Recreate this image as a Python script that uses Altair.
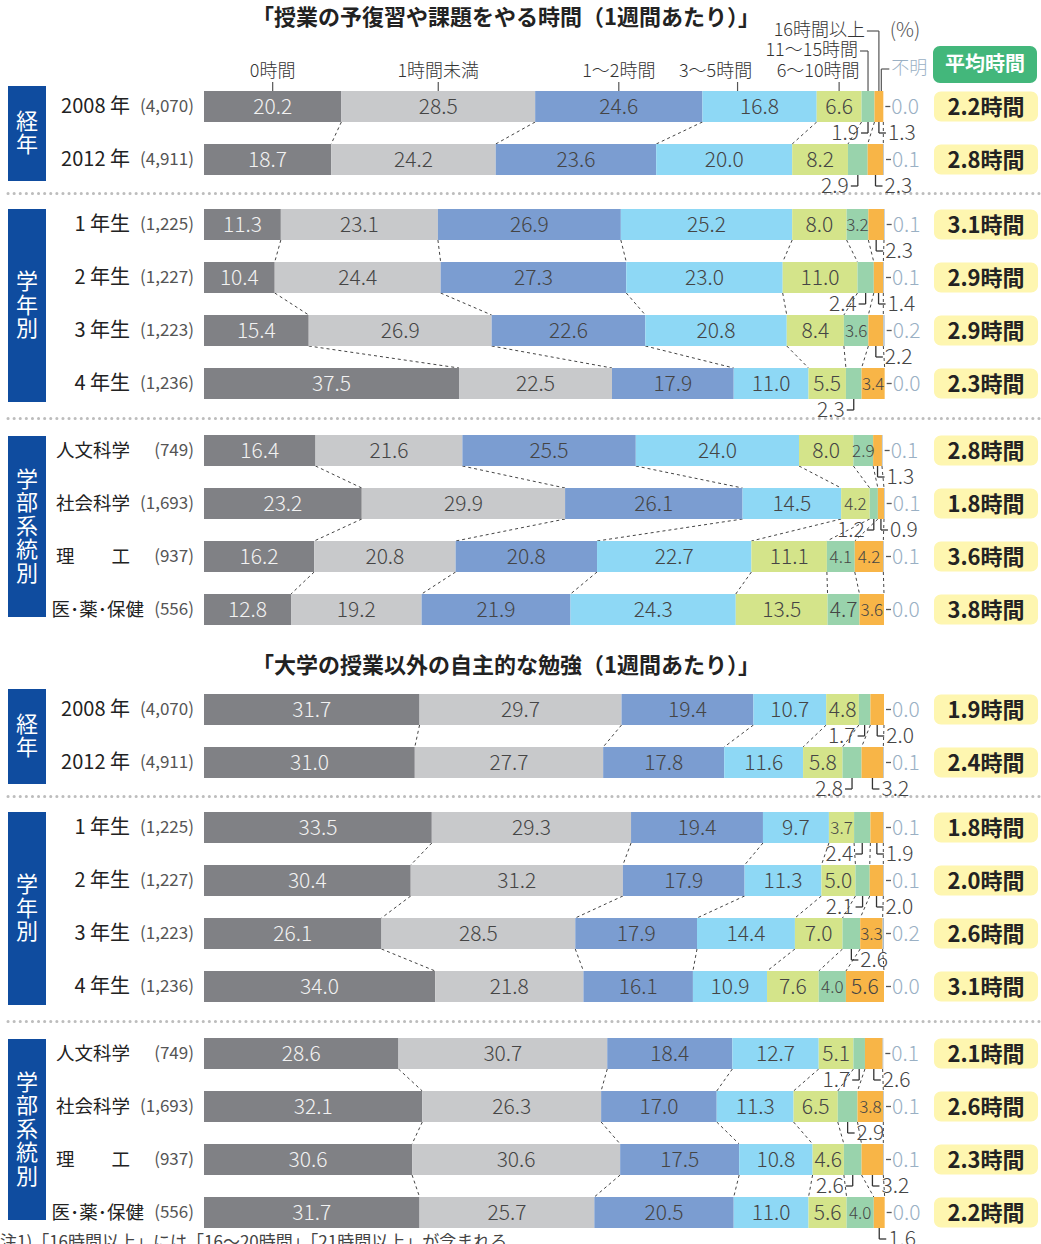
import altair as alt
import pandas as pd

FONT = "Noto Sans CJK JP"

# ---------------- data ----------------
categories = ["0時間", "1時間未満", "1～2時間", "3～5時間", "6～10時間", "11～15時間", "16時間以上", "不明"]
colors = ["#808185", "#c8c9cb", "#7b9dd1", "#8ed8f5", "#d4e48a", "#99d3ac", "#f8b547", "#a9bdd0"]

row_names = ["2008 年", "2012 年", "1 年生", "2 年生", "3 年生", "4 年生",
             "人文科学", "社会科学", "理　　工", "医･薬･保健"]
row_n = ["(4,070)", "(4,911)", "(1,225)", "(1,227)", "(1,223)", "(1,236)",
         "(749)", "(1,693)", "(937)", "(556)"]
groups = ["経年", "学年別", "学部系統別"]
row_group = [0, 0, 1, 1, 1, 1, 2, 2, 2, 2]

panel_titles = ["「授業の予復習や課題をやる時間（1週間あたり）」",
                "「大学の授業以外の自主的な勉強（1週間あたり）」"]

prep_values = [
    [20.2, 28.5, 24.6, 16.8, 6.6, 1.9, 1.3, 0.0],
    [18.7, 24.2, 23.6, 20.0, 8.2, 2.9, 2.3, 0.1],
    [11.3, 23.1, 26.9, 25.2, 8.0, 3.2, 2.3, 0.1],
    [10.4, 24.4, 27.3, 23.0, 11.0, 2.4, 1.4, 0.1],
    [15.4, 26.9, 22.6, 20.8, 8.4, 3.6, 2.2, 0.2],
    [37.5, 22.5, 17.9, 11.0, 5.5, 2.3, 3.4, 0.0],
    [16.4, 21.6, 25.5, 24.0, 8.0, 2.9, 1.3, 0.1],
    [23.2, 29.9, 26.1, 14.5, 4.2, 1.2, 0.9, 0.1],
    [16.2, 20.8, 20.8, 22.7, 11.1, 4.1, 4.2, 0.1],
    [12.8, 19.2, 21.9, 24.3, 13.5, 4.7, 3.6, 0.0],
]
prep_avg = ["2.2時間", "2.8時間", "3.1時間", "2.9時間", "2.9時間", "2.3時間",
            "2.8時間", "1.8時間", "3.6時間", "3.8時間"]

self_values = [
    [31.7, 29.7, 19.4, 10.7, 4.8, 1.7, 2.0, 0.0],
    [31.0, 27.7, 17.8, 11.6, 5.8, 2.8, 3.2, 0.1],
    [33.5, 29.3, 19.4, 9.7, 3.7, 2.4, 1.9, 0.1],
    [30.4, 31.2, 17.9, 11.3, 5.0, 2.1, 2.0, 0.1],
    [26.1, 28.5, 17.9, 14.4, 7.0, 2.6, 3.3, 0.2],
    [34.0, 21.8, 16.1, 10.9, 7.6, 4.0, 5.6, 0.0],
    [28.6, 30.7, 18.4, 12.7, 5.1, 1.7, 2.6, 0.1],
    [32.1, 26.3, 17.0, 11.3, 6.5, 2.9, 3.8, 0.1],
    [30.6, 30.6, 17.5, 10.8, 4.6, 2.6, 3.2, 0.1],
    [31.7, 25.7, 20.5, 11.0, 5.6, 4.0, 1.6, 0.0],
]
self_avg = ["1.9時間", "2.4時間", "1.8時間", "2.0時間", "2.6時間", "3.1時間",
            "2.1時間", "2.6時間", "2.3時間", "2.2時間"]

# label placement for 11～15 / 16時間以上 : I = inside, L = below-left, R = below-right
prep_place = ["LR", "LR", "IR", "LR", "IR", "LI", "IR", "LR", "II", "II"]
self_place = ["LR", "LR", "LR", "LR", "RI", "II", "LR", "RI", "LR", "IR"]

note_text = "注1)「16時間以上」には「16～20時間」「21時間以上」が含まれる"

# ---------------- layout ----------------
W, H = 1041, 1244
PX = 6.8      # pixels per percentage point
X0 = 204      # pixel of 0 %


def ux(p):
    return (p - X0) / PX


def dx(p):
    return p / PX


panel_first = [106.5, 709.5]
title_y = [18, 666]
group_start = [0, 118, 344]
pitch = 53
bar_h = 31
box_pad = [(5, 6), (0, 3), (-1, -8)]
box_lh = 23.5


def row_center(panel, r):
    g = row_group[r]
    first = row_group.index(g)
    return panel_first[panel] + group_start[g] + (r - first) * pitch


xs = alt.Scale(domain=[ux(0), ux(W)], nice=False, zero=False)
ys = alt.Scale(domain=[0, H], reverse=True, nice=False, zero=False)


def X(f="x"):
    return alt.X(f"{f}:Q", scale=xs, axis=None)


def Y(f="y"):
    return alt.Y(f"{f}:Q", scale=ys, axis=None)


bars, lab_in, lab_L, lab_R, leaders, unk_dash, unk_text = [], [], [], [], [], [], []
connectors, avg_rows, names, ns, boxes, box_chars, seps, titles = [], [], [], [], [], [], [], []

for p, (vals_all, avg_all, place_all) in enumerate(
        [(prep_values, prep_avg, prep_place), (self_values, self_avg, self_place)]):
    cums = []
    for r in range(10):
        vals = vals_all[r]
        yc = row_center(p, r)
        top, bot = yc - bar_h / 2, yc + bar_h / 2
        cum = 0.0
        bounds = []
        for c, v in enumerate(vals):
            bars.append(dict(x=cum, x2=cum + v, y=top, y2=bot, cat=categories[c]))
            mid = cum + v / 2
            if c < 7:
                place = "I" if c < 5 else place_all[r][c - 5]
                t = f"{v:.1f}"
                if place == "I":
                    lab_in.append(dict(x=mid, y=yc + 1, t=t,
                                       col="#f2f2f2" if c == 0 else "#454545",
                                       fs=21 if v * PX >= 29 else 17))
                else:
                    ty = bot + 11
                    leaders.append(dict(x=mid, x2=mid, y=bot, y2=ty))
                    if place == "L":
                        leaders.append(dict(x=mid - dx(7), x2=mid, y=ty, y2=ty))
                        lab_L.append(dict(x=mid - dx(9), y=ty + 1, t=t))
                    else:
                        leaders.append(dict(x=mid, x2=mid + dx(7), y=ty, y2=ty))
                        lab_R.append(dict(x=mid + dx(9), y=ty + 1, t=t))
            cum += v
            bounds.append(cum)
        cums.append((bounds, top, bot))
        unk_dash.append(dict(x=cum + dx(2), x2=cum + dx(7), y=yc, y2=yc))
        unk_text.append(dict(x=cum + dx(8), y=yc + 1, t=f"{vals[7]:.1f}"))
        avg_rows.append(dict(x=ux(934), x2=ux(1038), y=yc - 15, y2=yc + 15,
                             tx=ux(986), ty=yc + 1, t=avg_all[r]))
        names.append(dict(x=ux(144 if r == 9 else 130), y=yc, t=row_names[r],
                          fs=20 if r < 6 else 18.5))
        ns.append(dict(x=ux(194), y=yc, t=row_n[r]))
    # dashed connectors inside groups
    for r in range(9):
        if row_group[r] != row_group[r + 1]:
            continue
        b1, _, bot1 = cums[r]
        b2, top2, _ = cums[r + 1]
        for k in range(7):
            connectors.append(dict(x=b1[k], x2=b2[k], y=bot1, y2=top2))
    # group boxes with vertically stacked characters
    for g, gname in enumerate(groups):
        rows = [r for r in range(10) if row_group[r] == g]
        y1 = row_center(p, rows[0]) - bar_h / 2 - box_pad[g][0]
        y2 = row_center(p, rows[-1]) + bar_h / 2 + box_pad[g][1]
        boxes.append(dict(x=ux(8), x2=ux(46), y=y1, y2=y2))
        n = len(gname)
        for i, ch in enumerate(gname):
            box_chars.append(dict(x=ux(27),
                                  y=(y1 + y2) / 2 + (i - (n - 1) / 2) * box_lh,
                                  t=ch))
    for off in (87, 312):
        seps.append(dict(x=ux(8), x2=ux(W), y=panel_first[p] + off))
    titles.append(dict(x=ux(506), y=title_y[p], t=panel_titles[p]))

# header (category names above the first bar of the top panel)
hv = prep_values[0]
hb = [0.0]
for v in hv:
    hb.append(hb[-1] + v)
hmid = [(hb[i] + hb[i + 1]) / 2 for i in range(8)]
bar_top0 = panel_first[0] - bar_h / 2
head_c, head_r, head_l, head_lines = [], [], [], []
text_dx = [0, 0, 0, -44, -21]
tick_dx = [0, 0, 0, -22, 0]
for c in range(5):
    head_c.append(dict(x=hmid[c] + dx(text_dx[c]), y=72, t=categories[c]))
    tx = hmid[c] + dx(tick_dx[c])
    head_lines.append(dict(x=tx, x2=tx, y=82, y2=bar_top0))
for c, hy, gap in [(5, 51, 10), (6, 31, 14)]:
    head_r.append(dict(x=hmid[c] - dx(gap), y=hy, t=categories[c]))
    head_lines.append(dict(x=hmid[c] - dx(gap - 2), x2=hmid[c], y=hy, y2=hy))
    head_lines.append(dict(x=hmid[c], x2=hmid[c], y=hy, y2=bar_top0))
ux_unk = hb[8] - dx(2)
head_lines.append(dict(x=ux_unk, x2=ux_unk, y=69, y2=bar_top0))
head_lines.append(dict(x=ux_unk, x2=ux_unk + dx(8), y=69, y2=69))
head_l.append(dict(x=ux_unk + dx(10), y=69, t=categories[7]))

# ---------------- layers ----------------
def D(rows):
    return alt.Data(values=rows)


layers = []

layers.append(alt.Chart(D(seps)).mark_rule(
    strokeDash=[0.1, 6], strokeCap="round", strokeWidth=3, color="#bdbdbd"
).encode(x=X(), x2="x2:Q", y=Y()))

layers.append(alt.Chart(D(connectors)).mark_rule(
    strokeDash=[3, 3], strokeWidth=1, color="#444"
).encode(x=X(), x2="x2:Q", y=Y(), y2="y2:Q"))

layers.append(alt.Chart(D(bars)).mark_rect(strokeWidth=0).encode(
    x=X(), x2="x2:Q", y=Y(), y2="y2:Q",
    color=alt.Color("cat:N", scale=alt.Scale(domain=categories, range=colors), legend=None)))

layers.append(alt.Chart(D(lab_in)).mark_text(font=FONT, fontWeight=300).encode(
    x=X(), y=Y(), text="t:N", color=alt.Color("col:N", scale=None),
    size=alt.Size("fs:Q", scale=None)))

layers.append(alt.Chart(D(leaders)).mark_rule(strokeWidth=1.3, color="#333").encode(
    x=X(), x2="x2:Q", y=Y(), y2="y2:Q"))
layers.append(alt.Chart(D(lab_L)).mark_text(font=FONT, fontWeight=300, fontSize=21,
                                             align="right", color="#454545").encode(
    x=X(), y=Y(), text="t:N"))
layers.append(alt.Chart(D(lab_R)).mark_text(font=FONT, fontWeight=300, fontSize=21,
                                             align="left", color="#454545").encode(
    x=X(), y=Y(), text="t:N"))

layers.append(alt.Chart(D(unk_dash)).mark_rule(strokeWidth=1.3, color="#555").encode(
    x=X(), x2="x2:Q", y=Y()))
layers.append(alt.Chart(D(unk_text)).mark_text(font=FONT, fontWeight=300, fontSize=21,
                                                align="left", color="#9ab0c4").encode(
    x=X(), y=Y(), text="t:N"))

# average boxes
layers.append(alt.Chart(D(avg_rows)).mark_rect(color="#fef6b0", cornerRadius=7).encode(
    x=X(), x2="x2:Q", y=Y(), y2="y2:Q"))
layers.append(alt.Chart(D(avg_rows)).mark_text(font=FONT, fontWeight="bold", fontSize=22,
                                                color="#222").encode(
    x=X("tx"), y=Y("ty"), text="t:N"))
green = [dict(x=ux(933), x2=ux(1037), y=46, y2=83, tx=ux(985), ty=64.5, t="平均時間")]
layers.append(alt.Chart(D(green)).mark_rect(color="#43b77b", cornerRadius=7).encode(
    x=X(), x2="x2:Q", y=Y(), y2="y2:Q"))
layers.append(alt.Chart(D(green)).mark_text(font=FONT, fontWeight="bold", fontSize=20,
                                             color="white").encode(
    x=X("tx"), y=Y("ty"), text="t:N"))

# row labels
layers.append(alt.Chart(D(names)).mark_text(font=FONT, align="right",
                                             color="#222").encode(
    x=X(), y=Y(), text="t:N", size=alt.Size("fs:Q", scale=None)))
layers.append(alt.Chart(D(ns)).mark_text(font=FONT, fontSize=17, align="right",
                                          color="#555").encode(
    x=X(), y=Y(), text="t:N"))

# group boxes
layers.append(alt.Chart(D(boxes)).mark_rect(color="#0f4c9f").encode(
    x=X(), x2="x2:Q", y=Y(), y2="y2:Q"))
layers.append(alt.Chart(D(box_chars)).mark_text(font=FONT, fontSize=22,
                                                 color="white").encode(
    x=X(), y=Y(), text="t:N"))

# titles
layers.append(alt.Chart(D(titles)).mark_text(font=FONT, fontWeight="bold", fontSize=22,
                                              color="#222").encode(
    x=X(), y=Y(), text="t:N"))

# header
layers.append(alt.Chart(D(head_lines)).mark_rule(strokeWidth=1.2, color="#555").encode(
    x=X(), x2="x2:Q", y=Y(), y2="y2:Q"))
layers.append(alt.Chart(D(head_c)).mark_text(font=FONT, fontWeight=300, fontSize=18,
                                              color="#333").encode(
    x=X(), y=Y(), text="t:N"))
layers.append(alt.Chart(D(head_r)).mark_text(font=FONT, fontWeight=300, fontSize=18,
                                              align="right", color="#333").encode(
    x=X(), y=Y(), text="t:N"))
layers.append(alt.Chart(D(head_l)).mark_text(font=FONT, fontWeight=300, fontSize=18,
                                              align="left", color="#9ab0c4").encode(
    x=X(), y=Y(), text="t:N"))
pct = [dict(x=ux(905), y=31, t="(%)")]
layers.append(alt.Chart(D(pct)).mark_text(font=FONT, fontWeight=300, fontSize=20,
                                           color="#555").encode(
    x=X(), y=Y(), text="t:N"))

note = [dict(x=ux(0), y=1235, t=note_text)]
layers.append(alt.Chart(D(note)).mark_text(font=FONT, fontSize=17, align="left",
                                            baseline="top", color="#444").encode(
    x=X(), y=Y(), text="t:N"))

chart = alt.layer(*layers).properties(
    width=W, height=H, padding=0,
    autosize=alt.AutoSizeParams(type="none"),
).configure_view(stroke=None)

chart.save("out.html", embed_options={"renderer": "svg", "actions": False})
